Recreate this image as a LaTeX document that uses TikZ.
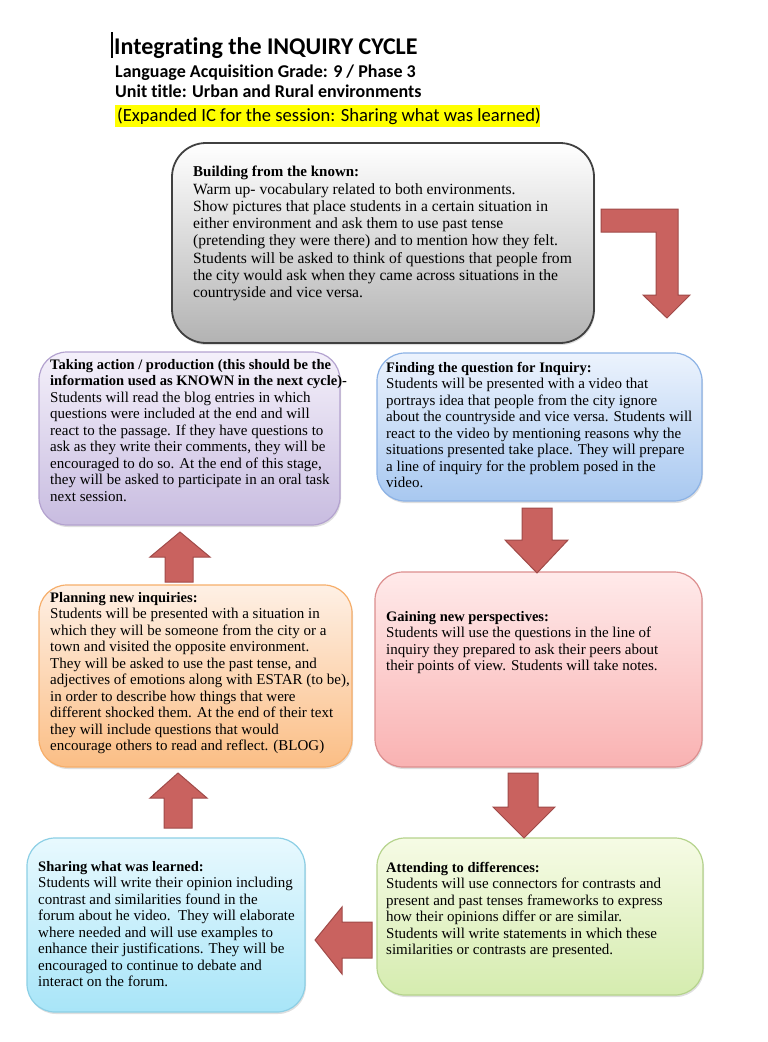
\documentclass[tikz,border=0pt]{standalone}
\usepackage{fontspec}
\setmainfont{Liberation Serif}
\newfontfamily\titlefont[Ligatures=NoCommon]{Carlito}
\usepackage{tikz}
\usetikzlibrary{positioning,shadows}

\definecolor{arrowred}{HTML}{C9625F}
\definecolor{arrowedge}{HTML}{A04A48}
\definecolor{hilite}{HTML}{FFFF00}

\newcommand{\stagehead}[1]{{\fontsize{14.5}{16.5}\selectfont\bfseries #1}}

\tikzset{
  stage/.style={rectangle, rounded corners=28pt, line width=1.2pt, inner sep=0pt,
    drop shadow={shadow xshift=1pt, shadow yshift=-2pt, opacity=0.25}},
  txt/.style={anchor=north west, inner sep=0pt, align=left,
    font=\fontsize{15}{16.5}\selectfont},
  blockarrow/.style={fill=arrowred, draw=arrowedge, line width=1pt, line join=miter},
  heading/.style={anchor=base west, inner sep=0pt, font=\titlefont\bfseries\fontsize{24}{28}\selectfont}
}

\begin{document}
\begin{tikzpicture}[x=1pt, y=-1pt]
  \useasboundingbox (0,0) rectangle (768,1042);

  % title lines
  \draw[line width=1.3pt] (112,32) -- (112,58);
  \node[heading] (title) at (114,54) {Integrating the INQUIRY CYCLE};
  \node[heading, font=\titlefont\bfseries\fontsize{18}{21}\selectfont] (grade) at (115,77) {Language Acquisition Grade: 9 / Phase 3};
  \node[heading, font=\titlefont\bfseries\fontsize{18}{21}\selectfont] (unit) at (115,97) {Unit title: Urban and Rural environments};
  \fill[hilite] (115,105) rectangle (540,127);
  \node[heading, font=\titlefont\fontsize{18.6}{21}\selectfont] (session) at (117,121) {(Expanded IC for the session: Sharing what was learned)};

  % stage boxes
  \node[stage, rounded corners=34pt, draw=black!75, line width=1.8pt, top color=white, bottom color=black!30,
    minimum width=422, minimum height=200] (known) at (383,243) {};
  \node[stage, draw={rgb,255:red,179;green,162;blue,207}, top color={rgb,255:red,244;green,240;blue,250},
    bottom color={rgb,255:red,200;green,188;blue,224}, minimum width=301, minimum height=173] (action) at (189.5,438.5) {};
  \node[stage, draw={rgb,255:red,140;green,178;blue,229}, top color={rgb,255:red,236;green,243;blue,253},
    bottom color={rgb,255:red,168;green,200;blue,240}, minimum width=325, minimum height=148] (finding) at (539.5,427) {};
  \node[stage, draw={rgb,255:red,246;green,174;blue,106}, top color={rgb,255:red,254;green,240;blue,229},
    bottom color={rgb,255:red,251;green,190;blue,133}, minimum width=313, minimum height=182] (planning) at (195.5,676) {};
  \node[stage, draw={rgb,255:red,220;green,142;blue,142}, top color={rgb,255:red,255;green,234;blue,234},
    bottom color={rgb,255:red,249;green,178;blue,178}, minimum width=327, minimum height=195] (gaining) at (538.5,669.5) {};
  \node[stage, draw={rgb,255:red,140;green,207;blue,229}, top color={rgb,255:red,232;green,249;blue,254},
    bottom color={rgb,255:red,168;green,229;blue,248}, minimum width=278, minimum height=174] (sharing) at (166,925) {};
  \node[stage, draw={rgb,255:red,181;green,211;blue,140}, top color={rgb,255:red,246;green,251;blue,229},
    bottom color={rgb,255:red,213;green,236;blue,175}, minimum width=326, minimum height=157] (attending) at (540,916.5) {};

  % texts
  \node[txt, font=\fontsize{15.6}{17.3}\selectfont] (knowntxt) at (193,166) {{\fontsize{15}{17.3}\selectfont\bfseries Building from the known:}\\
    Warm up- vocabulary related to both environments.\\
    Show pictures that place students in a certain situation in\\
    either environment and ask them to use past tense\\
    (pretending they were there) and to mention how they felt.\\
    Students will be asked to think of questions that people from\\
    the city would ask when they came across situations in the\\
    countryside and vice versa.};
  \node[txt] (actiontxt) at (50,359) {\stagehead{Taking action / production (this should be the}\\
    \stagehead{information used as KNOWN in the next cycle)-}\\
    Students will read the blog entries in which\\
    questions were included at the end and will\\
    react to the passage. If they have questions to\\
    ask as they write their comments, they will be\\
    encouraged to do so. At the end of this stage,\\
    they will be asked to participate in an oral task\\
    next session.};
  \node[txt] (findingtxt) at (386,362) {\stagehead{Finding the question for Inquiry:}\\
    Students will be presented with a video that\\
    portrays idea that people from the city ignore\\
    about the countryside and vice versa. Students will\\
    react to the video by mentioning reasons why the\\
    situations presented take place. They will prepare\\
    a line of inquiry for the problem posed in the\\
    video.};
  \node[txt] (planningtxt) at (50,592) {\stagehead{Planning new inquiries:}\\
    Students will be presented with a situation in\\
    which they will be someone from the city or a\\
    town and visited the opposite environment.\\
    They will be asked to use the past tense, and\\
    adjectives of emotions along with ESTAR (to be),\\
    in order to describe how things that were\\
    different shocked them. At the end of their text\\
    they will include questions that would\\
    encourage others to read and reflect. (BLOG)};
  \node[txt] (gainingtxt) at (386,611) {\stagehead{Gaining new perspectives:}\\
    Students will use the questions in the line of\\
    inquiry they prepared to ask their peers about\\
    their points of view. Students will take notes.};
  \node[txt] (sharingtxt) at (38,861) {\stagehead{Sharing what was learned:}\\
    Students will write their opinion including\\
    contrast and similarities found in the\\
    forum about he video.\ \ They will elaborate\\
    where needed and will use examples to\\
    enhance their justifications. They will be\\
    encouraged to continue to debate and\\
    interact on the forum.};
  \node[txt] (attendingtxt) at (386,862) {\stagehead{Attending to differences:}\\
    Students will use connectors for contrasts and\\
    present and past tenses frameworks to express\\
    how their opinions differ or are similar.\\
    Students will write statements in which these\\
    similarities or contrasts are presented.};

  % block arrows
  \draw[blockarrow] (601,209) -- (678,209) -- (678,295) -- (690,295) -- (667,318) -- (643,295) -- (656,295) -- (656,232) -- (601,232) -- cycle;
  \draw[blockarrow] (522,508) -- (552,508) -- (552,540) -- (568,540) -- (537,573) -- (505,540) -- (522,540) -- cycle;
  \draw[blockarrow] (508,773) -- (538,773) -- (538,807) -- (555,807) -- (524,838) -- (493,807) -- (508,807) -- cycle;
  \draw[blockarrow] (372,922) -- (372,958) -- (342,958) -- (342,974) -- (315,940) -- (342,907) -- (342,922) -- cycle;
  \draw[blockarrow] (164,828) -- (192,828) -- (192,798) -- (207,798) -- (178,773) -- (150,798) -- (164,798) -- cycle;
  \draw[blockarrow] (165,582) -- (193,582) -- (193,557) -- (210,557) -- (180,532) -- (150,557) -- (165,557) -- cycle;
\end{tikzpicture}
\end{document}
